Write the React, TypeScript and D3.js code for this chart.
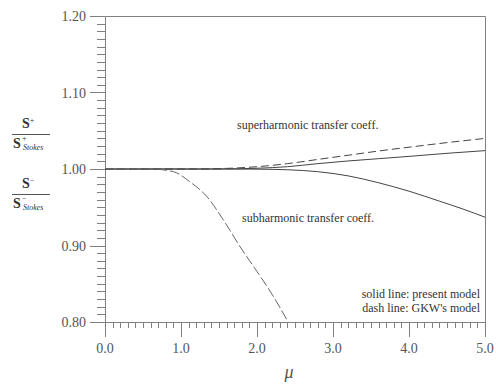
import React, { useRef, useEffect } from 'react';
import * as d3 from 'd3';

// curves: [mu, ratio]
const superSolidMu = [0, 1.0, 1.5, 2.0, 2.4, 2.8, 3.2, 3.6, 4.0, 4.5, 5.0];
const superSolidVal = [1, 1, 1, 1.001, 1.003, 1.007, 1.0105, 1.0135, 1.0165, 1.0205, 1.024];

const superDashMu = [0, 1.2, 1.6, 2.0, 2.4, 2.8, 3.2, 3.6, 4.0, 4.5, 5.0];
const superDashVal = [1, 1, 1.0008, 1.003, 1.007, 1.0125, 1.018, 1.0235, 1.0285, 1.0345, 1.04];

const subSolidMu = [0, 1.6, 2.0, 2.4, 2.8, 3.2, 3.6, 4.0, 4.4, 4.7, 5.0];
const subSolidVal = [1, 1, 0.9998, 0.999, 0.9965, 0.991, 0.982, 0.971, 0.958, 0.948, 0.937];

const subDashMu = [0, 0.6, 0.9, 1.12, 1.34, 1.56, 1.78, 2.0, 2.2, 2.41];
const subDashVal = [1, 1, 0.9965, 0.983, 0.964, 0.933, 0.898, 0.866, 0.836, 0.8];

const xMajor = [0, 1, 2, 3, 4, 5];
const yMajor = [0.8, 0.9, 1.0, 1.1, 1.2];

const font = 'Liberation Serif';
const axisColor = '#808080';
const textColor = '#555';
const lineColor = '#444';

const zip = (xs: number[], ys: number[]) => xs.map((x, i) => [x, ys[i]] as [number, number]);

const App = () => {
  const ref = useRef<SVGSVGElement>(null);

  useEffect(() => {
    const svg = d3.select(ref.current);
    svg.selectAll('*').remove();

    const left = 105, right = 485, top = 16, bottom = 322;
    const x = d3.scaleLinear().domain([0, 5]).range([left, right]);
    const y = d3.scaleLinear().domain([0.8, 1.2]).range([bottom, top]);

    svg.append('defs').append('clipPath').attr('id', 'plot')
      .append('rect').attr('x', left).attr('y', top)
      .attr('width', right - left).attr('height', bottom - top);

    // frame: left, top, right, bottom
    const frame = svg.append('g').attr('stroke', axisColor).attr('stroke-width', 1).attr('fill', 'none');
    frame.append('path').attr('d', `M${left + 0.5},${bottom + 0.5}V${top + 0.5}H${right + 0.5}V${bottom + 0.5}H${left + 0.5}`);

    // y ticks (minor every 0.01)
    const yMinor = d3.range(0, 41).map(i => 0.8 + i * 0.01);
    frame.selectAll('.yt').data(yMinor).join('line')
      .attr('x1', (d, i) => left - (i % 10 === 0 ? 15 : 8)).attr('x2', left)
      .attr('y1', d => Math.round(y(d)) + 0.5).attr('y2', d => Math.round(y(d)) + 0.5);

    // x ticks (minor every 0.1)
    const xMinor = d3.range(0, 51).map(i => i * 0.1);
    frame.selectAll('.xt').data(xMinor).join('line')
      .attr('x1', d => Math.round(x(d)) + 0.5).attr('x2', d => Math.round(x(d)) + 0.5)
      .attr('y1', bottom).attr('y2', (d, i) => bottom + (i % 10 === 0 ? 15 : 6));

    svg.selectAll('.yl').data(yMajor).join('text')
      .attr('x', 86).attr('y', d => y(d) + 5)
      .attr('text-anchor', 'end')
      .attr('font-size', 14).attr('fill', textColor)
      .text(d => d3.format('.2f')(d));

    svg.selectAll('.xl').data(xMajor).join('text')
      .attr('x', d => x(d)).attr('y', 353)
      .attr('text-anchor', 'middle')
      .attr('font-size', 14).attr('fill', textColor)
      .text(d => d3.format('.1f')(d));

    svg.append('text')
      .attr('x', 289).attr('y', 378).attr('text-anchor', 'middle')
      .attr('font-size', 18).attr('font-style', 'italic')
      .attr('fill', textColor).text('μ');

    // curves
    const line = d3.line<[number, number]>()
      .x(d => x(d[0])).y(d => y(d[1]))
      .curve(d3.curveMonotoneX);

    const curves = [
      { pts: zip(superSolidMu, superSolidVal), dash: null, c: lineColor },
      { pts: zip(superDashMu, superDashVal), dash: '8,4', c: lineColor },
      { pts: zip(subSolidMu, subSolidVal), dash: null, c: lineColor },
      { pts: zip(subDashMu, subDashVal), dash: '10,3', c: '#666' },
    ];
    svg.append('g').attr('clip-path', 'url(#plot)')
      .selectAll('path').data(curves).join('path')
      .attr('d', d => line(d.pts))
      .attr('fill', 'none').attr('stroke', d => d.c).attr('stroke-width', 1)
      .attr('stroke-dasharray', d => d.dash);

    // annotations
    const note = (tx: number, ty: number, s: string, anchor = 'start') =>
      svg.append('text').attr('x', tx).attr('y', ty).attr('text-anchor', anchor)
        .attr('font-size', 12).attr('fill', '#333').text(s);
    note(237, 129, 'superharmonic transfer coeff.');
    note(242, 222, 'subharmonic transfer coeff.');
    note(480, 298, 'solid line: present model', 'end');
    note(480, 312, "dash line: GKW's model", 'end');

    // y-axis label: two fractions
    const frac = (ny: number, sign: string) => {
      const g = svg.append('g').attr('fill', '#333');
      const num = g.append('text').attr('x', 22).attr('y', ny)
        .attr('font-size', 14).attr('font-weight', 'bold');
      num.append('tspan').text('S');
      num.append('tspan').attr('dy', -5).attr('font-size', 8).attr('font-weight', 'normal').text(sign);
      g.append('line').attr('x1', 12).attr('x2', 50).attr('y1', ny + 6.5).attr('y2', ny + 6.5)
        .attr('stroke', '#555').attr('stroke-width', 1);
      g.append('text').attr('x', 13).attr('y', ny + 20)
        .attr('font-size', 14).attr('font-weight', 'bold').text('S');
      g.append('text').attr('x', 22).attr('y', ny + 12.5).attr('font-size', 8).text(sign);
      g.append('text').attr('x', 23).attr('y', ny + 22)
        .attr('font-size', 8).attr('font-style', 'italic').text('Stokes');
    };
    frac(128, '+');
    frac(188, '−');
  }, []);

  return (
    <svg ref={ref} width={496} height={387} fontFamily={font}
      style={{ position: 'absolute', left: 0, top: 0, fontFamily: font }} />
  );
};

export default App;
